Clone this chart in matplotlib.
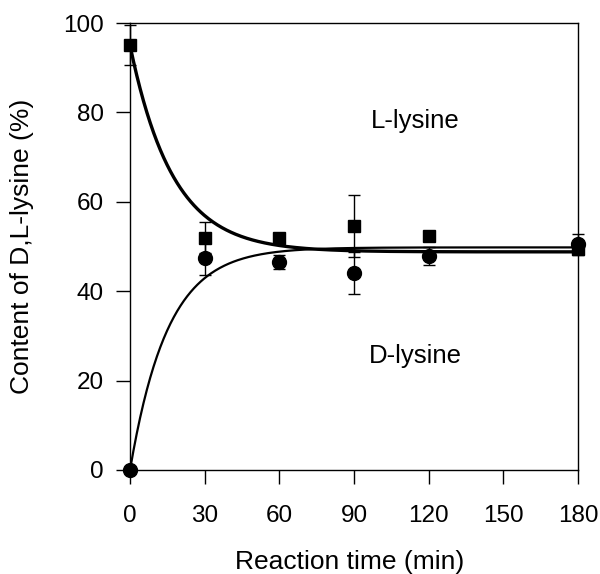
import numpy as np
import matplotlib.pyplot as plt

plt.rcParams['font.family'] = ['Liberation Sans', 'DejaVu Sans']

# measured points (min, %)
time = [0, 30, 60, 90, 120, 180]
l_lysine = [95.0, 52.0, 51.8, 54.6, 52.3, 49.5]
l_err = [4.5, 3.4, 1.0, 7.0, 1.0, 1.0]
d_lysine = [0.0, 47.4, 46.5, 44.1, 47.9, 50.5]
d_err = [0.0, 3.7, 1.5, 4.7, 2.0, 2.3]

# first-order fit parameters
l_plateau, l_amp, l_rate = 48.8, 46.2, 0.058
d_plateau, d_rate = 49.8, 0.066

t = np.linspace(0, 180, 400)
l_fit = l_plateau + l_amp * np.exp(-l_rate * t)
d_fit = d_plateau * (1 - np.exp(-d_rate * t))

fig = plt.figure(figsize=(6, 5.74), dpi=100)
ax = fig.add_axes([0.2167, 0.1812, 0.7467, 0.7787])

ax.plot(t, l_fit, color='black', lw=2.4)
ax.plot(t, d_fit, color='black', lw=1.6)
ax.errorbar(time, l_lysine, yerr=l_err, fmt='s', color='black', ms=9,
            ecolor='black', elinewidth=1, capsize=4, clip_on=False)
ax.errorbar(time, d_lysine, yerr=d_err, fmt='o', color='black', ms=10,
            ecolor='black', elinewidth=1, capsize=4, clip_on=False)

ax.text(114.5, 78, 'L-lysine', ha='center', va='center', fontsize=18.5)
ax.text(114.5, 25.4, 'D-lysine', ha='center', va='center', fontsize=18.5)

ax.set_xlim(0, 180)
ax.set_ylim(0, 100)
ax.set_xticks([0, 30, 60, 90, 120, 150, 180])
ax.set_yticks([0, 20, 40, 60, 80, 100])
ax.tick_params(direction='out', length=10, width=1, labelsize=17.5)
ax.tick_params(axis='x', pad=15)
ax.tick_params(axis='y', pad=9)
ax.set_xlabel('Reaction time (min)', fontsize=19, va='center')
ax.set_ylabel('Content of D,L-lysine (%)', fontsize=19, va='center')
ax.xaxis.set_label_coords(0.49, -0.205)
ax.yaxis.set_label_coords(-0.241, 0.5)
for s in ax.spines.values():
    s.set_linewidth(1)

fig.savefig('out.png', dpi=100)
